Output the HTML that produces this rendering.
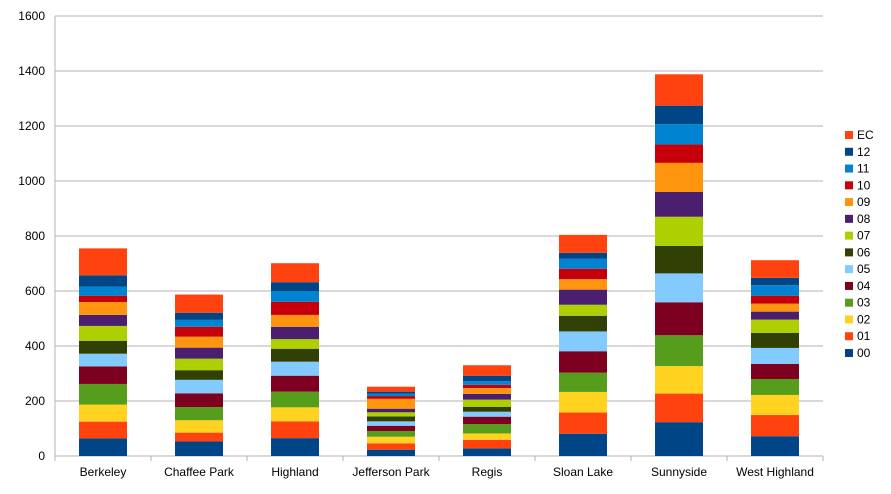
<!DOCTYPE html>
<html><head><meta charset="utf-8"><style>
body{margin:0;background:#fff;font-family:"Liberation Sans",sans-serif;}
svg text{font-family:"Liberation Sans",sans-serif;font-size:12px;fill:#000;}
</style></head><body>
<svg id="chart" width="891" height="489" xmlns="http://www.w3.org/2000/svg"></svg>
<script>
const categories=["Berkeley","Chaffee Park","Highland","Jefferson Park","Regis","Sloan Lake","Sunnyside","West Highland"];
const seriesNames=["00","01","02","03","04","05","06","07","08","09","10","11","12","EC"];
const seriesColors=["#004586","#ff420e","#ffd320","#579d1c","#7e0021","#83caff","#314004","#aecf00","#4b1f6f","#ff950e","#c5000b","#0084d1","#004586","#ff420e"];
const berkeley=[64,61,62,75,64,46,47,54,40,47,23,33,41,98];
const chaffeePark=[53,32,45,48,50,49,35,42,40,40,36,25,26,66];
const highland=[65,61,51,57,58,51,47,35,45,43,48,39,32,69];
const jeffersonPark=[23,23,24,21,19,16,18,15,13,36,10,9,7,18];
const regis=[28,31,23,34,27,18,18,26,21,21,12,13,20,38];
const sloanLake=[81,77,75,70,78,72,57,40,55,38,38,36,22,65];
const sunnyside=[123,104,100,112,120,105,100,106,90,106,67,74,67,114];
const westHighland=[72,77,73,58,55,58,55,48,29,29,29,38,27,64];
const yTicks=[0,200,400,600,800,1000,1200,1400,1600];
const values=[berkeley,chaffeePark,highland,jeffersonPark,regis,sloanLake,sunnyside,westHighland];

const svg=document.getElementById('chart');
const NS="http://www.w3.org/2000/svg";
const L=55,R=823,T=16,B=456,YMAX=1600;
const y=v=>B-(v/YMAX)*(B-T);
const band=(R-L)/categories.length;
const x=i=>L+band*i+band/2;
const bw=48;
function mk(tag,attrs){const e=document.createElementNS(NS,tag);for(const k in attrs)e.setAttribute(k,attrs[k]);svg.appendChild(e);return e;}

yTicks.forEach(t=>{
  const g=mk('line',{x1:L,x2:R,y1:y(t),y2:y(t),stroke:'#b3b3b3','stroke-width':1});
  
  
  const tx=mk('text',{x:45,y:y(t)+4,'text-anchor':'end'});
  tx.textContent=t;
  
  
});
const la=mk('line',{x1:L,x2:L,y1:T,y2:B,stroke:'#b3b3b3'});


for(let i=0;i<=categories.length;i++){
  const tk=mk('line',{x1:L+band*i,x2:L+band*i,y1:B,y2:B+5,stroke:'#b3b3b3'});
  
  
}
categories.forEach((c,i)=>{
  let cum=0;
  values[i].forEach((v,s)=>{
    const r=mk('rect',{x:x(i)-bw/2,y:y(cum+v),width:bw,height:y(cum)-y(cum+v),fill:seriesColors[s]});
    
    
    cum+=v;
  });
  const tx=mk('text',{x:x(i),y:476,'text-anchor':'middle'});
  tx.textContent=c;
  
  
});
const n=seriesNames.length;
for(let k=0;k<n;k++){
  const s=n-1-k;
  const ly=135+k*16.77;
  const r=mk('rect',{x:845,y:ly-4,width:8,height:8,fill:seriesColors[s]});
  
  
  const tx=mk('text',{x:857,y:ly+4});
  tx.textContent=seriesNames[s];
  
  
}
</script>
</body></html>
